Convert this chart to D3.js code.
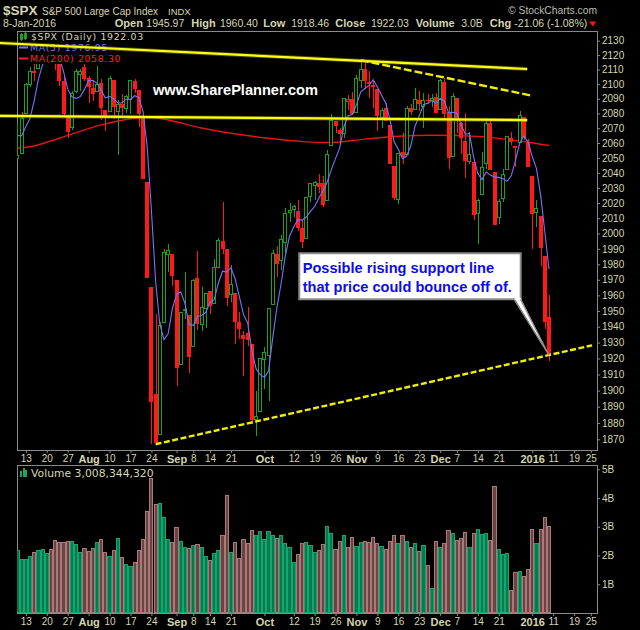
<!DOCTYPE html>
<html>
<head>
<meta charset="utf-8">
<script src="https://cdnjs.cloudflare.com/ajax/libs/d3/7.8.5/d3.min.js"></script>
<style>
html, body { margin: 0; padding: 0; background: #000; }
svg { display: block; }
</style>
</head>
<body>
<div id="chart"></div>
<script>
"use strict";

// trading days shown (Jul 9 2015 .. Jan 8 2016)
var dates = [
    "2015-07-09","2015-07-10","2015-07-13","2015-07-14","2015-07-15","2015-07-16","2015-07-17","2015-07-20","2015-07-21","2015-07-22","2015-07-23","2015-07-24","2015-07-27","2015-07-28","2015-07-29","2015-07-30","2015-07-31",
    "2015-08-03","2015-08-04","2015-08-05","2015-08-06","2015-08-07","2015-08-10","2015-08-11","2015-08-12","2015-08-13","2015-08-14","2015-08-17","2015-08-18","2015-08-19","2015-08-20","2015-08-21","2015-08-24","2015-08-25","2015-08-26","2015-08-27","2015-08-28","2015-08-31",
    "2015-09-01","2015-09-02","2015-09-03","2015-09-04","2015-09-08","2015-09-09","2015-09-10","2015-09-11","2015-09-14","2015-09-15","2015-09-16","2015-09-17","2015-09-18","2015-09-21","2015-09-22","2015-09-23","2015-09-24","2015-09-25","2015-09-28","2015-09-29","2015-09-30",
    "2015-10-01","2015-10-02","2015-10-05","2015-10-06","2015-10-07","2015-10-08","2015-10-09","2015-10-12","2015-10-13","2015-10-14","2015-10-15","2015-10-16","2015-10-19","2015-10-20","2015-10-21","2015-10-22","2015-10-23","2015-10-26","2015-10-27","2015-10-28","2015-10-29","2015-10-30",
    "2015-11-02","2015-11-03","2015-11-04","2015-11-05","2015-11-06","2015-11-09","2015-11-10","2015-11-11","2015-11-12","2015-11-13","2015-11-16","2015-11-17","2015-11-18","2015-11-19","2015-11-20","2015-11-23","2015-11-24","2015-11-25","2015-11-27","2015-11-30",
    "2015-12-01","2015-12-02","2015-12-03","2015-12-04","2015-12-07","2015-12-08","2015-12-09","2015-12-10","2015-12-11","2015-12-14","2015-12-15","2015-12-16","2015-12-17","2015-12-18","2015-12-21","2015-12-22","2015-12-23","2015-12-24","2015-12-28","2015-12-29","2015-12-30","2015-12-31",
    "2016-01-04","2016-01-05","2016-01-06","2016-01-07","2016-01-08"
];
// empty slots to the right of the last bar
var futureDates = ["2016-01-11","2016-01-12","2016-01-13","2016-01-14","2016-01-15","2016-01-19","2016-01-20","2016-01-21","2016-01-22","2016-01-25","2016-01-26"];

var opens = [
    2049.73,2052.74,2080.03,2099.72,2109.01,2110.55,2126.80,2126.85,2127.55,2118.21,2114.16,2102.24,2078.19,2070.75,2094.70,2106.78,2111.60,
    2104.49,2097.68,2095.27,2100.75,2082.61,2080.98,2102.66,2081.10,2086.19,2083.15,2089.70,2101.99,2095.69,2076.61,2034.08,1965.15,1898.08,1872.75,1942.77,1986.06,1986.73,
    1970.09,1916.52,1950.79,1947.76,1927.30,1971.45,1941.59,1951.45,1963.06,1955.10,1978.02,1995.33,1989.66,1960.84,1961.39,1943.24,1934.81,1935.93,1929.18,1881.90,1887.14,
    1919.65,1921.77,1954.33,1986.63,1982.34,1994.01,2013.73,2015.65,2015.00,2003.66,1996.47,2024.37,2031.73,2033.13,2033.47,2021.88,2058.19,2075.08,2068.75,2066.48,2088.35,2090.00,
    2080.76,2102.63,2110.60,2101.68,2098.60,2096.56,2077.19,2083.41,2072.29,2044.64,2022.08,2053.67,2051.99,2083.70,2082.82,2089.41,2084.42,2089.30,2088.82,2090.95,
    2082.93,2101.71,2080.71,2051.24,2090.42,2073.39,2061.17,2047.93,2047.27,2013.37,2025.55,2046.50,2073.76,2040.81,2010.27,2023.15,2042.20,2063.52,2057.77,2060.54,2077.34,2060.59,
    2038.20,2013.78,2011.71,1985.32,1945.97
];
var highs = [
    2074.28,2081.31,2100.67,2111.98,2114.14,2124.42,2128.91,2132.82,2128.49,2118.51,2116.87,2106.01,2078.19,2095.60,2110.60,2110.48,2114.24,
    2105.70,2102.51,2112.66,2103.32,2082.61,2105.35,2102.66,2089.06,2092.93,2092.45,2102.87,2103.47,2096.17,2076.61,2034.08,1965.15,1948.04,1943.09,1989.60,1993.48,1986.73,
    1970.09,1948.91,1975.01,1947.76,1970.42,1988.63,1965.29,1961.05,1963.06,1983.19,1997.26,2020.86,1989.66,1979.64,1961.39,1949.52,1937.17,1952.89,1929.18,1899.48,1920.53,
    1927.21,1951.36,1989.17,1991.62,1999.31,2016.50,2020.13,2018.66,2022.34,2009.56,2024.15,2033.54,2034.45,2039.12,2037.97,2055.20,2079.74,2075.14,2070.37,2090.35,2092.52,2094.32,
    2106.20,2116.48,2114.59,2108.78,2101.91,2096.56,2083.67,2086.94,2072.29,2044.64,2053.22,2066.69,2085.31,2086.74,2097.06,2095.61,2094.12,2093.00,2093.29,2093.81,
    2103.37,2104.27,2085.00,2093.84,2090.42,2073.85,2080.33,2067.65,2047.27,2022.92,2053.87,2076.72,2076.37,2040.81,2022.90,2042.74,2064.73,2067.36,2057.77,2081.56,2077.34,2062.54,
    2038.20,2021.94,2011.71,1985.32,1960.40
];
var lows = [
    2049.57,2052.74,2080.03,2098.18,2102.49,2110.55,2119.88,2123.66,2115.40,2110.00,2098.63,2077.09,2063.52,2069.09,2094.08,2094.97,2102.07,
    2087.31,2088.60,2095.27,2075.53,2067.91,2080.98,2076.49,2052.09,2078.26,2080.61,2079.30,2094.14,2070.53,2035.73,1970.89,1867.01,1867.08,1872.75,1942.77,1975.19,1965.98,
    1903.07,1916.52,1944.72,1911.21,1927.30,1937.88,1937.19,1939.19,1948.27,1954.30,1977.93,1986.73,1953.45,1955.80,1929.22,1932.57,1908.92,1928.16,1879.21,1871.91,1887.14,
    1900.70,1893.70,1954.33,1971.99,1976.44,1987.53,2007.61,2010.55,2001.78,1990.73,1996.47,2020.46,2022.31,2026.61,2017.22,2021.88,2058.19,2066.53,2058.84,2063.11,2082.63,2079.34,
    2080.76,2097.51,2096.98,2090.41,2083.74,2068.24,2069.91,2074.85,2045.66,2022.02,2019.39,2045.90,2051.99,2078.76,2082.82,2081.39,2070.29,2086.30,2084.13,2080.41,
    2082.93,2077.11,2042.35,2051.24,2066.78,2052.32,2036.53,2045.67,2008.80,1993.26,2025.55,2042.43,2041.66,2005.33,2005.93,2020.49,2042.20,2058.73,2044.20,2060.54,2061.97,2043.62,
    1989.68,2004.17,1979.05,1938.83,1918.46
];
var closes = [
    2051.31,2076.62,2099.60,2108.95,2107.40,2124.29,2126.64,2128.28,2119.21,2114.15,2102.15,2079.65,2067.64,2093.25,2108.57,2108.63,2103.84,
    2098.04,2093.32,2099.84,2083.56,2077.57,2104.18,2084.07,2086.05,2083.39,2091.54,2102.44,2096.92,2079.61,2035.73,1970.89,1893.21,1867.61,1940.51,1987.66,1988.87,1972.18,
    1913.85,1948.86,1951.13,1921.22,1969.41,1942.04,1952.29,1961.05,1953.03,1978.09,1995.31,1990.20,1958.03,1966.97,1942.74,1938.76,1932.24,1931.34,1881.77,1884.09,1920.03,
    1923.82,1951.36,1987.05,1979.92,1995.83,2013.43,2014.89,2017.46,2003.69,1994.24,2023.86,2033.11,2033.66,2030.77,2018.94,2052.51,2075.15,2071.18,2065.89,2090.35,2089.41,2079.36,
    2104.05,2109.79,2102.31,2099.93,2099.20,2078.58,2081.72,2075.00,2045.97,2023.04,2053.19,2050.44,2083.58,2081.24,2089.17,2086.59,2089.14,2088.87,2090.11,2080.41,
    2102.63,2079.51,2049.62,2091.69,2077.07,2063.59,2047.62,2052.23,2012.37,2021.94,2043.41,2073.07,2041.89,2005.55,2021.15,2038.97,2064.29,2060.99,2056.50,2078.36,2063.36,2043.94,
    2012.66,2016.71,1990.26,1943.09,1922.03
];
// closes of the 4 sessions before Jul 9 (for the MA(5) and the first bar colour)
var priorCloses = [2076.78, 2068.76, 2081.34, 2046.68];

// volume, billions of shares
var volumes = [
    2.19,1.88,1.88,1.97,2.11,2.19,2.23,2.08,2.23,2.54,2.46,2.46,2.50,2.50,2.40,2.11,2.26,
    2.16,2.26,2.47,2.57,2.11,2.00,2.19,2.61,1.95,1.70,1.63,1.77,2.19,2.57,3.56,4.70,3.79,3.83,3.34,2.57,2.47,
    2.99,2.50,2.30,2.26,2.37,2.40,2.30,2.00,1.84,2.08,2.19,2.71,4.10,2.13,2.47,1.91,2.57,2.43,2.89,2.71,2.85,
    2.57,2.85,2.71,2.61,2.71,2.43,2.30,1.77,2.05,2.43,2.47,2.37,2.13,2.19,2.40,3.03,2.78,2.23,2.50,2.71,2.30,2.64,
    2.33,2.47,2.50,2.47,2.64,2.43,2.33,2.23,2.50,2.71,2.43,2.71,2.50,2.30,2.43,2.16,2.37,1.67,0.87,2.50,
    2.30,2.43,2.89,2.78,2.54,2.61,2.82,2.30,2.78,2.92,2.75,2.78,2.54,4.42,2.23,2.05,2.08,0.80,1.43,1.46,1.29,1.53,
    2.92,2.43,2.92,3.34,3.01
];

// MA(200)
var ma200Dates = ["2015-07-09","2015-07-14","2015-07-23","2015-08-06","2015-08-17","2015-08-24","2015-08-28","2015-09-10","2015-10-02","2015-10-15","2015-10-23","2015-11-04","2015-11-16","2015-11-27","2015-12-15","2015-12-24","2016-01-04","2016-01-08"];
var ma200Values = [2056.5,2057.5,2063.2,2072.2,2076.4,2077.4,2075.5,2070.1,2063.2,2060.8,2060.4,2062.6,2064.6,2065.2,2064.3,2062.0,2060.2,2058.3];

// hand drawn trend lines: [slot, price]
var topLine = [[-4.2, 2128.4], [121.8, 2110.4]];
var flatLine = [[-4.2, 2078.3], [121.8, 2075.5]];
var lowerHighsLine = [[82, 2116.5], [122.9, 2092.1]];
var supportLine = [[33, 1867.0], [137.3, 1928.3]];

var priceTicks = [1870,1880,1890,1900,1910,1920,1930,1940,1950,1960,1970,1980,1990,2000,2010,2020,2030,2040,2050,2060,2070,2080,2090,2100,2110,2120,2130];
var volumeTicks = [1, 2, 3, 4, 5];
var tickDates = ["2015-07-13","2015-07-20","2015-07-27","2015-08-03","2015-08-10","2015-08-17","2015-08-24","2015-09-01","2015-09-08","2015-09-14","2015-09-21","2015-10-01","2015-10-12","2015-10-19","2015-10-26","2015-11-02","2015-11-09","2015-11-16","2015-11-23","2015-12-01","2015-12-07","2015-12-14","2015-12-21","2016-01-04","2016-01-11","2016-01-19","2016-01-25"];
var tickLabels = ["13","20","27","Aug","10","17","24","Sep","8","14","21","Oct","12","19","26","Nov","9","16","23","Dec","7","14","21","2016","11","19","25"];
var monthTicks = ["Aug","Sep","Oct","Nov","Dec","2016"];

var TXT = "#d6d6b0";
var GRID = "#8a8a8a";
var UP = "#1ea01e", DOWN = "#ff1a1a";

var pp = { left: 17, right: 597, top: 31, bottom: 450 };
var vp = { left: 17, right: 597, top: 465, bottom: 613 };

var allDates = dates.concat(futureDates);
var x = d3.scaleLinear().domain([-0.5, allDates.length - 0.5]).range([15.4, 597.1]);
var y = d3.scaleLog().domain([1870, 2130]).range([439.3, 40.7]);
var yVol = d3.scaleLinear().domain([0, 5]).range([613, 469.3]);

var svg = d3.select("#chart").append("svg")
    .attr("width", 640).attr("height", 630)
    .style("background", "#000")
    .style("font-family", "'Liberation Sans', Arial, sans-serif");
var defs = svg.append("defs");
defs.append("clipPath").attr("id", "clipPrice").append("rect")
    .attr("x", pp.left).attr("y", pp.top).attr("width", pp.right - pp.left).attr("height", pp.bottom - pp.top);
defs.append("clipPath").attr("id", "clipVol").append("rect")
    .attr("x", vp.left).attr("y", vp.top).attr("width", vp.right - vp.left).attr("height", vp.bottom - vp.top);

// ---- header
var head = svg.append("g").attr("fill", TXT);
head.append("text").attr("x", 3).attr("y", 15).attr("font-size", 13.5).attr("font-weight", "bold").text("$SPX");
head.append("text").attr("x", 42).attr("y", 15).attr("font-size", 10).text("S&P 500 Large Cap Index");
head.append("text").attr("x", 168).attr("y", 15).attr("font-size", 9.5).text("INDX");
head.append("text").attr("x", 597).attr("y", 14).attr("font-size", 10.3).attr("text-anchor", "end").attr("fill", "#bdbdb0").text("\u00a9 StockCharts.com");
head.append("text").attr("x", 3).attr("y", 27).attr("font-size", 10.5).text("8-Jan-2016");
var quote = [
    ["Open", 114.8, true], ["1945.97", 146.3, false],
    ["High", 191.3, true], ["1960.40", 219.9, false],
    ["Low", 263.2, true], ["1918.46", 291.2, false],
    ["Close", 335.3, true], ["1922.03", 370.9, false],
    ["Volume", 415.8, true], ["3.0B", 461.2, false],
    ["Chg", 489.8, true], ["-21.06 (-1.08%)", 514.3, false]
];
var lastNode;
quote.forEach(function (q) {
    lastNode = head.append("text").attr("x", q[1]).attr("y", 27)
        .attr("font-size", q[2] ? 11 : 10.5)
        .attr("font-weight", q[2] ? "bold" : "normal")
        .text(q[0]);
});
var tEnd = 514.3 + lastNode.node().getComputedTextLength() + 2;
svg.append("path")
    .attr("d", "M" + tEnd + ",21.5 L" + (tEnd + 7) + ",21.5 L" + (tEnd + 3.5) + ",26.5 Z")
    .attr("fill", "#ff1010");

// ---- price panel
var price = svg.append("g");
price.append("rect")
    .attr("x", pp.left + 0.5).attr("y", pp.top + 0.5)
    .attr("width", pp.right - pp.left).attr("height", pp.bottom - pp.top)
    .attr("fill", "#000").attr("stroke", GRID);

var plot = price.append("g").attr("clip-path", "url(#clipPrice)");

var ma200Pts = ma200Dates.map(function (d, i) { return [allDates.indexOf(d), ma200Values[i]]; });
var closeHist = priorCloses.concat(closes);
var ma5Pts = closes.map(function (c, i) { return [i, d3.mean(closeHist.slice(i, i + 5))]; });

var line = d3.line().x(function (d) { return x(d[0]); }).y(function (d) { return y(d[1]); });

plot.append("path").datum(ma200Pts)
    .attr("d", line.curve(d3.curveMonotoneX))
    .attr("fill", "none").attr("stroke", "#e01515").attr("stroke-width", 1.4);
line.curve(d3.curveLinear);

var candles = plot.append("g").attr("shape-rendering", "crispEdges");
dates.forEach(function (d, i) {
    var prev = i === 0 ? priorCloses[priorCloses.length - 1] : closes[i - 1];
    var col = closes[i] >= prev ? UP : DOWN;
    var hollow = closes[i] > opens[i];
    var px = Math.round(x(i));
    candles.append("line")
        .attr("x1", px + 0.5).attr("x2", px + 0.5)
        .attr("y1", y(highs[i])).attr("y2", y(lows[i]))
        .attr("stroke", col);
    var top = y(Math.max(opens[i], closes[i]));
    var bot = y(Math.min(opens[i], closes[i]));
    if (hollow) {
        candles.append("rect")
            .attr("x", px - 1.5).attr("y", top)
            .attr("width", 3).attr("height", Math.max(bot - top, 1))
            .attr("fill", "#000").attr("stroke", col);
    } else {
        candles.append("rect")
            .attr("x", px - 2).attr("y", top)
            .attr("width", 4).attr("height", Math.max(bot - top, 1.5))
            .attr("fill", col);
    }
});

plot.append("path").datum(ma5Pts)
    .attr("d", line)
    .attr("fill", "none").attr("stroke", "#7474ff").attr("stroke-width", 1.1);

// legend (covers the bars below it)
var leg = price.append("g")
    .attr("font-family", "'DejaVu Sans', sans-serif").attr("font-size", 9.4).attr("letter-spacing", 0.65);
leg.append("rect").attr("x", pp.left + 1).attr("y", pp.top + 1).attr("width", 88).attr("height", 32).attr("fill", "#000");
var icon = leg.append("g").attr("stroke", UP).attr("shape-rendering", "crispEdges");
icon.append("rect").attr("x", 20.5).attr("y", 34.5).attr("width", 2).attr("height", 5).attr("fill", "none");
icon.append("line").attr("x1", 21.5).attr("x2", 21.5).attr("y1", 33).attr("y2", 41);
icon.append("rect").attr("x", 24.5).attr("y", 33.5).attr("width", 2).attr("height", 5).attr("fill", UP);
icon.append("line").attr("x1", 25.5).attr("x2", 25.5).attr("y1", 32).attr("y2", 40);
leg.append("text").attr("x", 31).attr("y", 40).attr("fill", TXT).text("$SPX (Daily) 1922.03");
leg.append("line").attr("x1", 19).attr("x2", 28).attr("y1", 47.5).attr("y2", 47.5).attr("stroke", "#7474ff").attr("stroke-width", 2);
leg.append("text").attr("x", 30).attr("y", 51).attr("fill", "#7474ff").text("MA(5) 1976.95");
leg.append("line").attr("x1", 19).attr("x2", 28).attr("y1", 58.5).attr("y2", 58.5).attr("stroke", "#ff2020").attr("stroke-width", 2);
leg.append("text").attr("x", 30).attr("y", 62).attr("fill", "#ff2020").text("MA(200) 2058.30");

price.append("text").attr("x", 153).attr("y", 95)
    .attr("font-size", 14.6).attr("font-weight", "bold").attr("fill", "#fff")
    .text("www.SharePlanner.com");

// y axis (price)
var yAxis = svg.append("g").attr("transform", "translate(" + pp.right + ",0)")
    .call(d3.axisRight(y).tickValues(priceTicks).tickSize(3).tickPadding(2).tickFormat(d3.format("d")));
yAxis.select(".domain").remove();
yAxis.selectAll("line").attr("stroke", GRID);
yAxis.selectAll("text").attr("fill", TXT).attr("font-size", 10).attr("font-family", "'Liberation Sans', Arial, sans-serif");

// ---- x axes
function dateAxis(yPos) {
    var g = svg.append("g").attr("transform", "translate(0," + yPos + ")")
        .call(d3.axisBottom(x)
            .tickValues(tickDates.map(function (d) { return allDates.indexOf(d); }))
            .tickSize(3).tickPadding(2)
            .tickFormat(function (v, i) { return tickLabels[i]; }));
    g.select(".domain").remove();
    g.selectAll("line").attr("stroke", GRID);
    g.selectAll("text")
        .attr("fill", TXT)
        .attr("font-family", "'Liberation Sans', Arial, sans-serif")
        .attr("font-size", function (v, i) { return monthTicks.indexOf(tickLabels[i]) >= 0 ? 11 : 10; })
        .attr("font-weight", function (v, i) { return monthTicks.indexOf(tickLabels[i]) >= 0 ? "bold" : "normal"; });
    return g;
}
dateAxis(pp.bottom);
dateAxis(vp.bottom);

// ---- volume panel
var vol = svg.append("g");
vol.append("rect")
    .attr("x", vp.left + 0.5).attr("y", vp.top + 0.5)
    .attr("width", vp.right - vp.left).attr("height", vp.bottom - vp.top)
    .attr("fill", "#000").attr("stroke", GRID);
var bars = vol.append("g").attr("clip-path", "url(#clipVol)").attr("shape-rendering", "crispEdges");
volumes.forEach(function (v, i) {
    var prev = i === 0 ? priorCloses[priorCloses.length - 1] : closes[i - 1];
    var up = closes[i] >= prev;
    var x0 = Math.round(x(i) - 2.09), x1 = Math.round(x(i) + 2.09);
    bars.append("rect")
        .attr("x", x0 + 0.5).attr("y", yVol(v) + 0.5)
        .attr("width", x1 - x0 - 1).attr("height", yVol(0) - yVol(v) - 1)
        .attr("fill", up ? "#007a50" : "#6c4343")
        .attr("stroke", up ? "#14a66c" : "#a87a7a");
});
var vIcon = vol.append("g").attr("fill", "#14a66c").attr("shape-rendering", "crispEdges");
[[20, 471, 6], [22.5, 468, 9], [25, 470, 7]].forEach(function (b) {
    vIcon.append("rect").attr("x", b[0]).attr("y", b[1]).attr("width", 2).attr("height", b[2]);
});
vol.append("text").attr("x", 31).attr("y", 476.5).attr("font-family", "'DejaVu Sans', sans-serif")
    .attr("font-size", 10.8).attr("fill", TXT).text("Volume 3,008,344,320");

var vAxis = svg.append("g").attr("transform", "translate(" + vp.right + ",0)")
    .call(d3.axisRight(yVol).tickValues(volumeTicks).tickSize(3).tickPadding(2).tickFormat(function (d) { return d + "B"; }));
vAxis.select(".domain").remove();
vAxis.selectAll("line").attr("stroke", GRID);
vAxis.selectAll("text").attr("fill", TXT).attr("font-size", 10).attr("font-family", "'Liberation Sans', Arial, sans-serif");

// ---- trend lines (drawn over everything, not clipped)
var trend = svg.append("g").attr("fill", "none");
[topLine, flatLine].forEach(function (pts) {
    trend.append("path").datum(pts).attr("d", line).attr("stroke", "#a0a000").attr("stroke-width", 4).attr("stroke-opacity", 0.45);
    trend.append("path").datum(pts).attr("d", line).attr("stroke", "#ffff10").attr("stroke-width", 2.2);
});
trend.append("path").datum(lowerHighsLine).attr("d", line)
    .attr("stroke", "#f0f000").attr("stroke-width", 2.4).attr("stroke-dasharray", "8,3");
trend.append("path").datum(supportLine).attr("d", line)
    .attr("stroke", "#f0f000").attr("stroke-width", 2.4).attr("stroke-dasharray", "6,2.5");

// ---- callout
var last = dates.length - 1;
var tipX = x(last), tipY = y(closes[last]);
var bx = tipX - 249.7, by = tipY - 102, bw = 221.4, bh = 46;
var note = svg.append("g");
note.append("rect").attr("x", bx).attr("y", by).attr("width", bw).attr("height", bh)
    .attr("fill", "#fff").attr("stroke", "#8c8c8c").attr("stroke-width", 2);
note.append("path")
    .attr("d", "M" + (tipX - 35) + "," + (by + bh - 1.5) + " L" + tipX + "," + tipY + " L" + (tipX - 28.5) + "," + (by + bh - 1.5) + " Z")
    .attr("fill", "#fff");
note.append("path")
    .attr("d", "M" + (tipX - 35) + "," + (by + bh) + " L" + tipX + "," + tipY + " L" + (tipX - 28.5) + "," + (by + bh))
    .attr("fill", "none").attr("stroke", "#8c8c8c").attr("stroke-width", 1.3);
note.append("text").attr("x", bx + 3.4).attr("y", by + 20)
    .attr("font-size", 14.6).attr("font-weight", "bold").attr("fill", "#0c0cf0")
    .text("Possible rising support line");
note.append("text").attr("x", bx + 3.4).attr("y", by + 38.4)
    .attr("font-size", 14.6).attr("font-weight", "bold").attr("fill", "#0c0cf0")
    .text("that price could bounce off of.");
</script>
</body>
</html>
